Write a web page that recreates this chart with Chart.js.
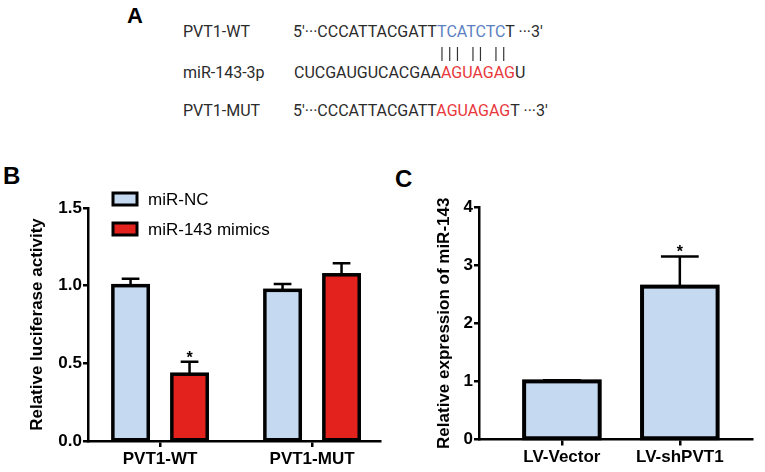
<!DOCTYPE html>
<html>
<head>
<meta charset="utf-8">
<script src="https://cdn.jsdelivr.net/npm/chart.js@4.4.1/dist/chart.umd.min.js"></script>
<style>
  html, body { margin: 0; padding: 0; background: #fff; }
  body { width: 765px; height: 472px; position: relative; overflow: hidden; font-family: "Liberation Sans", Arial, sans-serif; }
  .letter { position: absolute; font-weight: bold; font-size: 24px; line-height: 24px; color: #000; }
  .seq { position: absolute; font-family: Roboto, sans-serif; font-size: 16px; line-height: 16px; color: #2b2b2b; white-space: pre; }
  .blue { color: #5b80c2; }
  .red { color: #e8383c; }
  .pairs { letter-spacing: 3.8px; color: #333; filter: grayscale(100%); }
  #boxB { position: absolute; left: 0; top: 160px; width: 388px; height: 312px; }
  #boxC { position: absolute; left: 390px; top: 160px; width: 375px; height: 312px; }
</style>
</head>
<body>
  <div class="letter" style="left:127px; top:4px; font-size:22px;">A</div>
  <div class="letter" style="left:3px; top:164px;">B</div>
  <div class="letter" style="left:395px; top:167px;">C</div>

  <div class="seq" style="left:183px; top:24px;">PVT1-WT</div>
  <div class="seq" style="left:293px; top:24px;">5'···CCCATTACGATT<span class="blue">TCATCTC</span>T ···3'</div>
  <div class="seq pairs" style="left:440px; top:46px;">||| || ||</div>
  <div class="seq" style="left:183px; top:65px;">miR-143-3p</div>
  <div class="seq" style="left:294px; top:65px;">CUCGAUGUCACGAA<span class="red">AGUAGAG</span>U</div>
  <div class="seq" style="left:183px; top:103px;">PVT1-MUT</div>
  <div class="seq" style="left:293px; top:103px;">5'···CCCATTACGATT<span class="red">AGUAGAG</span>T ···3'</div>

  <div id="boxB"><canvas id="chartB"></canvas></div>
  <div id="boxC"><canvas id="chartC"></canvas></div>

<script>
// panel B: luciferase reporter
const groupLabels = ['PVT1-WT', 'PVT1-MUT'];
const ncValues = [1.0, 0.97];
const ncErrors = [0.045, 0.04];
const mimicValues = [0.43, 1.07];
const mimicErrors = [0.08, 0.075];
const ncStars = ['', ''];
const mimicStars = ['*', ''];

// panel C: qPCR
const lvLabels = ['LV-Vector', 'LV-shPVT1'];
const lvValues = [1.0, 2.63];
const lvErrors = [0.02, 0.52];
const lvStars = ['', '*'];

const FONT = '"Liberation Sans", Arial, sans-serif';
const BLUE = '#c5d9f1';
const RED = '#e3221e';

// thick black outlines, then SEM bars and significance stars
const errorBars = {
  id: 'errorBars',
  afterDatasetsDraw(chart, args, opts) {
    const ctx = chart.ctx;
    const yScale = chart.scales.y;
    chart.data.datasets.forEach((ds, di) => {
      const meta = chart.getDatasetMeta(di);
      meta.data.forEach((bar, i) => {
        const top = yScale.getPixelForValue(ds.data[i].y + ds.errors[i]);
        const half = bar.width / 2;
        ctx.save();
        ctx.strokeStyle = '#000';
        ctx.lineWidth = opts.outline;
        ctx.strokeRect(bar.x - half, bar.y, bar.width, bar.base - bar.y);

        ctx.lineWidth = 2.5;
        ctx.beginPath();
        ctx.moveTo(bar.x, bar.y);
        ctx.lineTo(bar.x, top);
        ctx.moveTo(bar.x - half / 2, top);
        ctx.lineTo(bar.x + half / 2, top);
        ctx.stroke();
        if (ds.stars[i]) {
          ctx.fillStyle = '#000';
          ctx.font = 'bold 16px ' + FONT;
          ctx.textAlign = 'center';
          ctx.textBaseline = 'alphabetic';
          ctx.fillText(ds.stars[i], bar.x, top + 1);
        }
        ctx.restore();
      });
    });
  }
};

const boxLegend = {
  id: 'boxLegend',
  afterDraw(chart, args, opts) {
    if (!opts.show) return;
    const ctx = chart.ctx;
    const area = chart.chartArea;
    chart.data.datasets.forEach((ds, i) => {
      const x = area.left + opts.offsetX;
      const y = area.top + opts.offsetY + i * opts.rowGap;
      ctx.save();
      ctx.fillStyle = ds.backgroundColor;
      ctx.fillRect(x, y - 6, 24, 12);
      ctx.strokeStyle = '#000';
      ctx.lineWidth = 3;
      ctx.strokeRect(x, y - 6, 24, 12);
      ctx.fillStyle = '#000';
      ctx.font = '17px ' + FONT;
      ctx.textBaseline = 'middle';
      ctx.fillText(ds.label, x + 35, y + 1);
      ctx.restore();
    });
  }
};

function points(values) {
  return values.map((v, i) => ({ x: i, y: v }));
}

function axisOptions(labels, xMin, xMax, yMax, step, yTitle, titlePad, yWidth, xHeight, fmt) {
  return {
    x: {
      type: 'linear',
      offset: false,
      min: xMin,
      max: xMax,
      afterBuildTicks: s => { s.ticks = labels.map((_, i) => ({ value: i })); },
      afterFit: s => { s.height = xHeight; },
      ticks: {
        callback: v => labels[v],
        color: '#000',
        font: { family: FONT, size: 17, weight: 'bold' },
        padding: 2,
        autoSkip: false,
        maxRotation: 0
      },
      grid: { offset: false, drawOnChartArea: false, drawTicks: true, tickLength: 6, color: '#000', lineWidth: 2.5 },
      border: { display: true, color: '#000', width: 2.5 }
    },
    y: {
      min: 0,
      max: yMax,
      afterFit: s => { s.width = yWidth; },
      ticks: {
        stepSize: step,
        callback: fmt,
        color: '#000',
        font: { family: FONT, size: 17, weight: 'bold' },
        padding: 1
      },
      grid: { drawOnChartArea: false, drawTicks: true, tickLength: 5, color: '#000', lineWidth: 2.5 },
      border: { display: true, color: '#000', width: 2.5 },
      title: {
        display: true,
        text: yTitle,
        color: '#000',
        font: { family: FONT, size: 17, weight: 'bold' },
        padding: { top: titlePad, bottom: 0 }
      }
    }
  };
}

new Chart(document.getElementById('chartB'), {
  type: 'bar',
  data: {
    datasets: [
      { label: 'miR-NC', data: points(ncValues), errors: ncErrors, stars: ncStars,
        backgroundColor: BLUE, borderWidth: 0 },
      { label: 'miR-143 mimics', data: points(mimicValues), errors: mimicErrors, stars: mimicStars,
        backgroundColor: RED, borderWidth: 0 }
    ]
  },
  options: {
    responsive: true,
    maintainAspectRatio: false,
    animation: false,
    categoryPercentage: 0.776,
    barPercentage: 0.6,
    layout: { padding: { top: 48, right: 8, left: 0, bottom: 0 } },
    scales: axisOptions(groupLabels, -0.474, 1.447, 1.5, 0.5, 'Relative luciferase activity', 27.5, 88, 31, v => v.toFixed(1)),
    plugins: {
      legend: { display: false },
      tooltip: { enabled: false },
      errorBars: { outline: 3.5 },
      boxLegend: { show: true, offsetX: 25, offsetY: -9, rowGap: 30 }
    }
  },
  plugins: [errorBars, boxLegend]
});

new Chart(document.getElementById('chartC'), {
  type: 'bar',
  data: {
    datasets: [
      { label: 'miR-143', data: points(lvValues), errors: lvErrors, stars: lvStars,
        backgroundColor: BLUE, borderWidth: 0 }
    ]
  },
  options: {
    responsive: true,
    maintainAspectRatio: false,
    animation: false,
    categoryPercentage: 0.8,
    barPercentage: 0.801,
    layout: { padding: { top: 47, right: 13, left: 0, bottom: 0 } },
    scales: axisOptions(lvLabels, -0.703, 1.612, 4, 1, 'Relative expression of miR-143', 44.5, 89, 32.5, v => v),
    plugins: {
      legend: { display: false },
      tooltip: { enabled: false },
      errorBars: { outline: 4 },
      boxLegend: { show: false }
    }
  },
  plugins: [errorBars, boxLegend]
});
</script>
</body>
</html>
